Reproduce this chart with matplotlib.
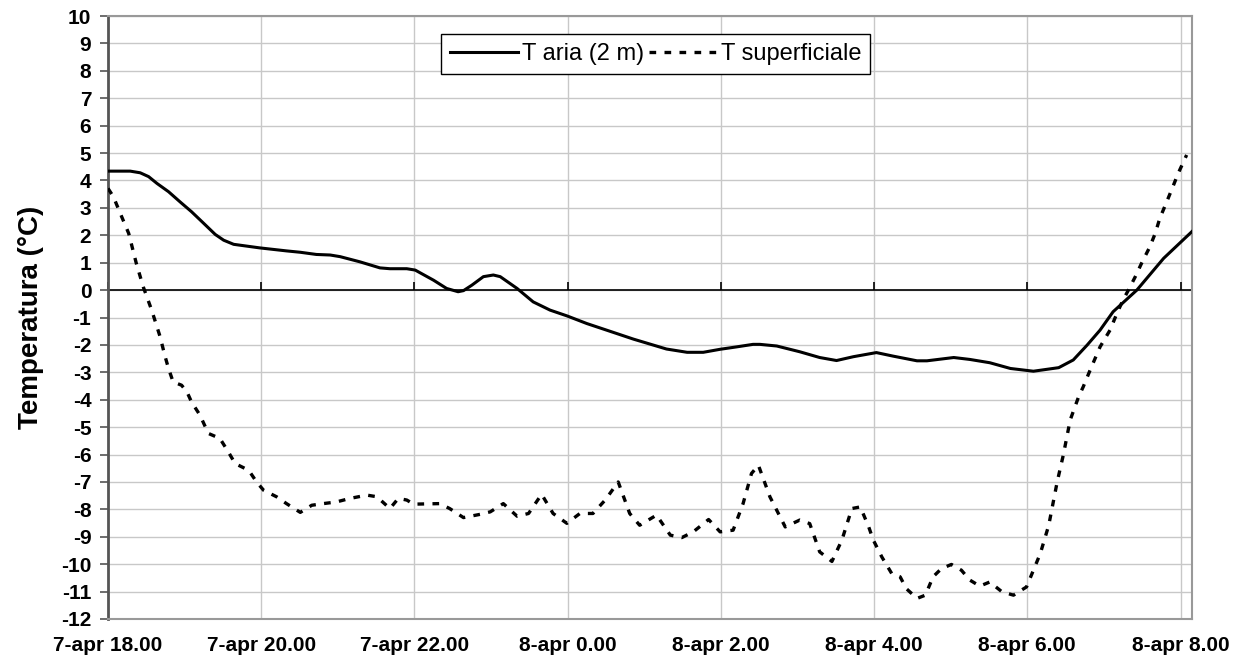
import matplotlib
matplotlib.use("Agg")
import matplotlib.pyplot as plt
import numpy as np

plt.rcParams['font.family'] = ['Liberation Sans', 'DejaVu Sans']

# hours elapsed since 7-apr 18.00
t_aria_h = [0.00, 0.29, 0.42, 0.53, 0.64, 0.79, 0.94, 1.09, 1.24, 1.40, 1.51, 1.64, 1.98, 2.33,
            2.51, 2.72, 2.90, 3.03, 3.29, 3.55, 3.68, 3.90, 4.01, 4.25, 4.42, 4.57, 4.64, 4.75,
            4.90, 5.03, 5.12, 5.34, 5.55, 5.77, 5.99, 6.25, 6.55, 6.86, 7.29, 7.56, 7.77, 7.99,
            8.21, 8.42, 8.51, 8.73, 9.03, 9.29, 9.51, 9.73, 10.03, 10.25, 10.56, 10.69, 11.04,
            11.25, 11.51, 11.78, 12.08, 12.41, 12.60, 12.78, 12.95, 13.12, 13.43, 13.78, 14.17]
t_aria = [4.34, 4.34, 4.28, 4.14, 3.89, 3.59, 3.22, 2.86, 2.46, 2.03, 1.82, 1.67, 1.54, 1.43,
          1.38, 1.30, 1.28, 1.22, 1.03, 0.81, 0.78, 0.78, 0.73, 0.36, 0.06, -0.06, -0.02, 0.18,
          0.49, 0.55, 0.49, 0.06, -0.43, -0.73, -0.94, -1.22, -1.50, -1.79, -2.15, -2.27, -2.27, -2.16,
          -2.07, -1.98, -1.98, -2.04, -2.25, -2.46, -2.57, -2.43, -2.28, -2.41, -2.58, -2.58, -2.46,
          -2.53, -2.65, -2.86, -2.96, -2.83, -2.55, -2.01, -1.46, -0.79, 0.00, 1.16, 2.19]

t_sup_h = [0.00, 0.07, 0.16, 0.27, 0.37, 0.46, 0.57, 0.68, 0.74, 0.79, 0.85, 0.96, 1.03, 1.09,
           1.20, 1.31, 1.46, 1.57, 1.66, 1.79, 1.85, 1.94, 2.03, 2.20, 2.33, 2.51, 2.66, 2.81,
           2.98, 3.16, 3.38, 3.51, 3.68, 3.79, 3.90, 3.99, 4.33, 4.46, 4.64, 4.86, 4.99, 5.16,
           5.34, 5.49, 5.66, 5.81, 5.99, 6.16, 6.33, 6.49, 6.66, 6.81, 6.94, 7.16, 7.34, 7.49,
           7.64, 7.84, 7.99, 8.16, 8.29, 8.40, 8.49, 8.64, 8.84, 9.03, 9.16, 9.29, 9.45, 9.58,
           9.71, 9.82, 9.93, 9.99, 10.10, 10.23, 10.34, 10.42, 10.56, 10.67, 10.77, 10.88, 11.01,
           11.14, 11.25, 11.38, 11.51, 11.67, 11.82, 11.99, 12.08, 12.17, 12.28, 12.39, 12.47,
           12.56, 12.67, 12.73, 12.82, 12.95, 13.08, 13.17, 13.25, 13.32, 13.41, 13.49, 13.60,
           13.67, 13.73, 13.82, 13.90, 13.97, 14.08]
t_sup = [3.71, 3.41, 2.80, 2.07, 0.97, 0.12, -0.73, -1.70, -2.37, -2.86, -3.35, -3.47, -3.71, -4.08,
         -4.56, -5.23, -5.41, -5.90, -6.33, -6.51, -6.63, -7.00, -7.30, -7.54, -7.79, -8.11, -7.85, -7.79,
         -7.73, -7.60, -7.48, -7.54, -7.97, -7.60, -7.66, -7.81, -7.79, -7.97, -8.30, -8.18, -8.09, -7.79,
         -8.25, -8.15, -7.45, -8.15, -8.51, -8.15, -8.15, -7.66, -7.00, -8.15, -8.58, -8.21, -8.94, -9.03,
         -8.82, -8.37, -8.82, -8.76, -7.79, -6.69, -6.39, -7.54, -8.64, -8.39, -8.52, -9.55, -9.90, -9.12,
         -7.97, -7.91, -8.64, -9.12, -9.73, -10.34, -10.46, -10.89, -11.25, -11.13, -10.46, -10.16, -10.01,
         -10.22, -10.58, -10.80, -10.65, -11.01, -11.13, -10.83, -10.22, -9.61, -8.58, -7.00, -6.02,
         -4.74, -3.89, -3.53, -2.92, -2.07, -1.46, -0.85, -0.36, 0.00, 0.49, 0.97, 1.58,
         2.07, 2.62, 3.22, 3.77, 4.26, 4.93]

x_tick_pos = [0, 2, 4, 6, 8, 10, 12, 14]
x_tick_labels = ['7-apr 18.00', '7-apr 20.00', '7-apr 22.00', '8-apr 0.00',
                 '8-apr 2.00', '8-apr 4.00', '8-apr 6.00', '8-apr 8.00']
y_ticks = list(range(-12, 11))

fig = plt.figure(figsize=(12.4, 6.68), dpi=100)
ax = fig.add_axes([108/1240, 1 - 619/668, (1192-108)/1240, (619-16)/668])

ax.set_xlim(0, 14.15)
ax.set_ylim(-12, 10)

grid_c = '#c8c8c8'
for yv in y_ticks:
    ax.axhline(yv, color=grid_c, lw=1.0, zorder=0)
for xv in x_tick_pos[1:]:
    ax.axvline(xv, color=grid_c, lw=1.0, zorder=0)
ax.axhline(0, color='black', lw=1.2, zorder=1)

ax.plot(t_aria_h, t_aria, color='black', lw=2.2, label='T aria (2 m)', zorder=3)
ax.plot(t_sup_h, t_sup, color='black', lw=2.4, linestyle=(0, (2.0, 2.5)),
        label='T superficiale', zorder=3)

ax.set_yticks(y_ticks)
ax.set_yticklabels([str(v) for v in y_ticks], fontsize=15, fontweight='bold')
ax.tick_params(axis='y', direction='out', length=6, width=1.2, color='#555555', pad=6)

ax.set_xticks(x_tick_pos)
ax.set_xticklabels(x_tick_labels, fontsize=15, fontweight='bold')
ax.tick_params(axis='x', length=0, pad=12)

sec = ax.secondary_xaxis(12/22)
sec.set_xticks(x_tick_pos)
sec.set_xticklabels([])
sec.tick_params(axis='x', direction='out', length=6, width=1.2, color='black')
sec.spines['bottom'].set_visible(False)
sec.spines['top'].set_visible(False)

for s in ['top', 'right', 'bottom']:
    ax.spines[s].set_color('#999999')
    ax.spines[s].set_linewidth(1.5)
ax.spines['left'].set_color('#555555')
ax.spines['left'].set_linewidth(2.0)

ax.set_ylabel('Temperatura (°C)', fontsize=20, fontweight='bold', labelpad=12)

leg = ax.legend(loc='center', bbox_to_anchor=(0.505, 0.937), ncol=2, fontsize=17,
                frameon=True, fancybox=False, edgecolor='black', framealpha=1,
                handlelength=2.9, columnspacing=0.2, handletextpad=0.15, borderpad=0.38)
leg.get_frame().set_linewidth(1.0)

fig.savefig('out.png', dpi=100)
